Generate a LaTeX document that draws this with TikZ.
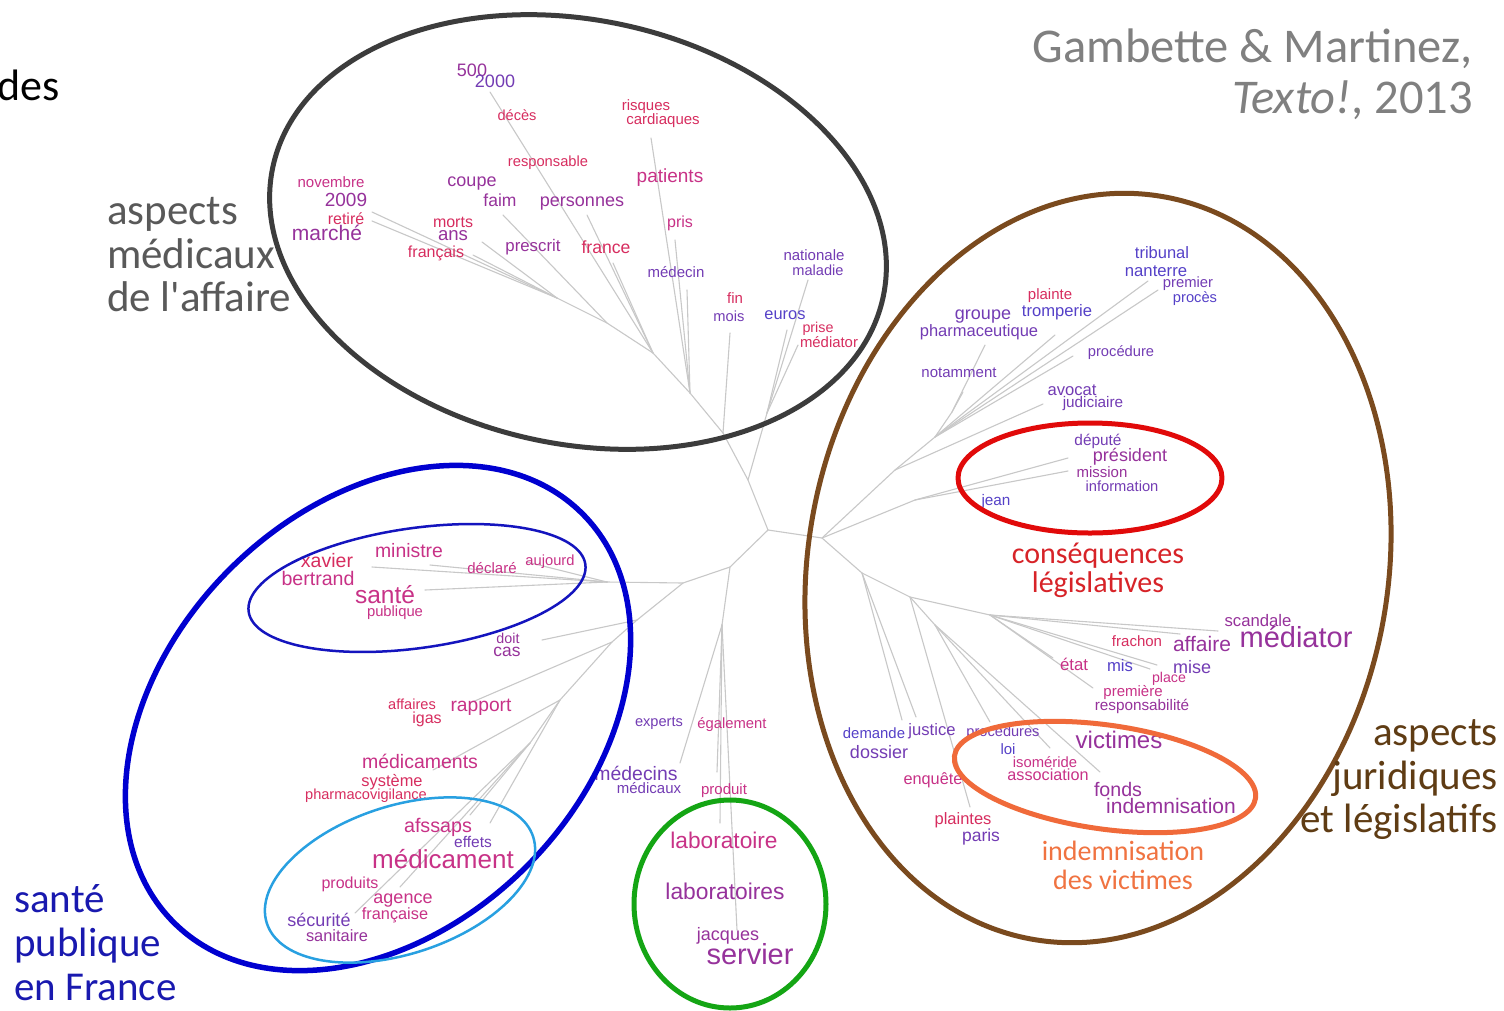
\documentclass[tikz,border=0pt]{standalone}
\usepackage{fontspec}
\setmainfont{Liberation Sans}
\newfontfamily\titlefont{Carlito}
\definecolor{treegray}{RGB}{200,200,200}
\definecolor{wred}{RGB}{215,45,95}
\definecolor{wpink}{RGB}{200,50,135}
\definecolor{wplum}{RGB}{150,50,155}
\definecolor{wviol}{RGB}{115,60,180}
\definecolor{wblue}{RGB}{85,65,200}
\definecolor{ringgray}{RGB}{60,60,60}
\definecolor{ringbrown}{RGB}{122,74,30}
\definecolor{ringred}{RGB}{225,10,10}
\definecolor{ringblue}{RGB}{0,0,208}
\definecolor{ringnavy}{RGB}{20,20,190}
\definecolor{ringsky}{RGB}{40,160,225}
\definecolor{ringgreen}{RGB}{20,165,20}
\definecolor{ringorange}{RGB}{240,106,58}
\definecolor{txtgray}{RGB}{89,89,89}
\definecolor{citegray}{RGB}{128,128,128}
\definecolor{txtblue}{RGB}{25,25,175}
\definecolor{txtbrown}{RGB}{95,60,20}
\definecolor{txtred}{RGB}{215,35,40}
\definecolor{txtorange}{RGB}{240,115,65}
\tikzset{
    word/.style = {inner sep=0pt, font=\fontsize{#1}{#1}\selectfont},
    title/.style = {inner sep=0pt, font=\titlefont\fontsize{#1}{#1}\selectfont},
    branch/.style = {draw=treegray, line width=1.1pt},
    ring/.style = {line width=#1}
}
\begin{document}
\begin{tikzpicture}[line cap=round,line join=round,x=1pt,y=-1pt]
\fill[white] (0,0) rectangle (1504,1010);
\useasboundingbox (0,0) rectangle (1504,1010);
\coordinate (c0) at (768,530);
\coordinate (t0) at (748,480);
\coordinate (t1) at (723,433);
\coordinate (t2) at (767,413);
\coordinate (t3) at (690,393);
\coordinate (t4) at (653,353);
\coordinate (t5) at (607,323);
\coordinate (t6) at (557,298);
\coordinate (c1) at (822,538);
\coordinate (r1) at (895,470);
\coordinate (r2) at (935,437);
\coordinate (r3) at (952,412);
\coordinate (r4) at (915,500);
\coordinate (r5) at (862,573);
\coordinate (r6) at (910,597);
\coordinate (r7) at (990,615);
\coordinate (r8) at (935,625);
\coordinate (d0) at (730,567);
\coordinate (d1) at (722,625);
\coordinate (d2) at (683,583);
\coordinate (d3) at (607,582);
\coordinate (d4) at (637,620);
\coordinate (d5) at (612,642);
\coordinate (d6) at (560,700);
\coordinate (d7) at (530,743);
\coordinate (lmois) at (730,333);
\coordinate (lmedecin) at (687,290);
\coordinate (lpris) at (675,240);
\coordinate (lrisques) at (651,138);
\coordinate (l2000) at (490,92);
\coordinate (lpersonnes) at (587,215);
\coordinate (lfrance) at (613,263);
\coordinate (lfaim) at (503,215);
\coordinate (lans) at (482,242);
\coordinate (lmarche1) at (372,212);
\coordinate (lmarche2) at (372,221);
\coordinate (lfrancais) at (473,255);
\coordinate (leuros) at (787,330);
\coordinate (lmaladie) at (808,280);
\coordinate (lprise) at (798,345);
\coordinate (lavocat) at (1043,404);
\coordinate (lprocedure) at (1073,356);
\coordinate (ltribunal) at (1148,281);
\coordinate (lproces) at (1158,290);
\coordinate (ltromperie) at (1055,335);
\coordinate (lgroupe) at (985,345);
\coordinate (lnotamment) at (963,392);
\coordinate (lpresident) at (1068,458);
\coordinate (lmission) at (1068,471);
\coordinate (lscandale) at (1218,631);
\coordinate (laffaire) at (1180,634);
\coordinate (lmise) at (1157,665);
\coordinate (lplace) at (1150,669);
\coordinate (letat) at (1053,658);
\coordinate (lpremiere) at (1093,688);
\coordinate (lfonds) at (1100,772);
\coordinate (lassoc) at (1050,748);
\coordinate (lproced) at (990,722);
\coordinate (ldemande) at (902,720);
\coordinate (ljustice) at (916,717);
\coordinate (lplaintes) at (970,807);
\coordinate (llabo) at (720,823);
\coordinate (lservier) at (737,930);
\coordinate (lproduit) at (717,772);
\coordinate (lmedecins) at (680,763);
\coordinate (lxavier) at (372,567);
\coordinate (lsante) at (425,590);
\coordinate (lministre) at (430,565);
\coordinate (laujourd) at (527,562);
\coordinate (ldoit) at (542,640);
\coordinate (lrapport) at (470,703);
\coordinate (lmedicaments) at (433,770);
\coordinate (lafssaps) at (490,823);
\coordinate (leffets) at (470,815);
\coordinate (lsecurite) at (355,913);
\coordinate (lproduits) at (400,887);
\draw[branch] (c0) -- (t0) -- (t1) -- (t3) -- (t4) -- (t5) -- (t6);
\draw[branch] (t0) -- (t2);
\draw[branch] (t1) -- (lmois);
\draw[branch] (t3) -- (lmedecin);
\draw[branch] (t3) -- (lpris);
\draw[branch] (t3) -- (lrisques);
\draw[branch] (t4) -- (l2000);
\draw[branch] (t4) -- (lpersonnes);
\draw[branch] (t4) -- (lfrance);
\draw[branch] (t5) -- (lfaim);
\draw[branch] (t6) -- (lans);
\draw[branch] (t6) -- (lmarche1);
\draw[branch] (t6) -- (lmarche2);
\draw[branch] (t6) -- (lfrancais);
\draw[branch] (t2) -- (leuros);
\draw[branch] (t2) -- (lmaladie);
\draw[branch] (t2) -- (lprise);
\draw[branch] (c0) -- (c1) -- (r1) -- (r2) -- (r3);
\draw[branch] (r1) -- (lavocat);
\draw[branch] (r2) -- (lprocedure);
\draw[branch] (r2) -- (ltribunal);
\draw[branch] (r2) -- (lproces);
\draw[branch] (r2) -- (ltromperie);
\draw[branch] (r3) -- (lgroupe);
\draw[branch] (r3) -- (lnotamment);
\draw[branch] (c1) -- (r4);
\draw[branch] (r4) -- (lpresident);
\draw[branch] (r4) -- (lmission);
\draw[branch] (c1) -- (r5) -- (r6) -- (r7);
\draw[branch] (r7) -- (lscandale);
\draw[branch] (r7) -- (laffaire);
\draw[branch] (r7) -- (lmise);
\draw[branch] (r7) -- (lplace);
\draw[branch] (r7) -- (letat);
\draw[branch] (r7) -- (lpremiere);
\draw[branch] (r6) -- (r8);
\draw[branch] (r8) -- (lfonds);
\draw[branch] (r8) -- (lassoc);
\draw[branch] (r8) -- (lproced);
\draw[branch] (r6) -- (lplaintes);
\draw[branch] (r5) -- (ldemande);
\draw[branch] (r5) -- (ljustice);
\draw[branch] (c0) -- (d0) -- (d1);
\draw[branch] (d1) -- (llabo);
\draw[branch] (d1) -- (lservier);
\draw[branch] (d1) -- (lproduit);
\draw[branch] (d1) -- (lmedecins);
\draw[branch] (d0) -- (d2) -- (d3);
\draw[branch] (d3) -- (lxavier);
\draw[branch] (d3) -- (lsante);
\draw[branch] (d3) -- (lministre);
\draw[branch] (d3) -- (laujourd);
\draw[branch] (d2) -- (d4) -- (d5) -- (d6) -- (d7);
\draw[branch] (d4) -- (ldoit);
\draw[branch] (d5) -- (lrapport);
\draw[branch] (d6) -- (lmedicaments);
\draw[branch] (d6) -- (lafssaps);
\draw[branch] (d7) -- (leffets);
\draw[branch] (d7) -- (lsecurite);
\draw[branch] (d7) -- (lproduits);
\node[word=18, wplum] (n500) at (472,70) {500};
\node[word=18, wviol] (n2000) at (495,81) {2000};
\node[word=14.6, wred] (deces) at (517,115) {décès};
\node[word=14.7, wred] (respons) at (548,163) {responsable};
\node[word=15, wred] (risques) at (646,107) {risques};
\node[word=15, wred] (cardiaques) at (663,121) {cardiaques};
\node[word=19, wpink] (patients) at (670,178) {patients};
\node[word=16, wpink] (pris) at (680,223) {pris};
\node[word=15, wviol] (medecin) at (676,272) {médecin};
\node[word=15, wpink] (novembre) at (331,182) {novembre};
\node[word=19, wplum] (n2009) at (346,200) {2009};
\node[word=16, wred] (retire) at (346,219) {retiré};
\node[word=21, wplum] (marche) at (327,233) {marché};
\node[word=18, wplum] (coupe) at (472,184) {coupe};
\node[word=17.5, wplum] (faim) at (500,200) {faim};
\node[word=18, wplum] (personnes) at (582,204) {personnes};
\node[word=16, wred] (morts) at (453,222) {morts};
\node[word=18.6, wplum] (ans) at (453,236) {ans};
\node[word=16, wred] (francais) at (436,253) {français};
\node[word=16.8, wplum] (prescrit) at (533,247) {prescrit};
\node[word=17.6, wred] (france) at (606,247) {france};
\node[word=15, wviol] (nationale) at (814,255) {nationale};
\node[word=14.6, wviol] (maladie) at (818,270) {maladie};
\node[word=15, wred] (fin) at (735,298) {fin};
\node[word=14.7, wviol] (mois) at (729,316) {mois};
\node[word=16.4, wblue] (euros) at (785,315) {euros};
\node[word=14.3, wred] (prise) at (818,329) {prise};
\node[word=14.9, wred] (mediatorA) at (829,342) {médiator};
\node[word=16.5, wblue] (tribunal) at (1162,253) {tribunal};
\node[word=16.7, wblue] (nanterre) at (1156,271) {nanterre};
\node[word=14.8, wviol] (premier) at (1188,284) {premier};
\node[word=14.7, wblue] (proces) at (1195,299) {procès};
\node[word=15, wred] (plainte) at (1050,296) {plainte};
\node[word=18, wviol] (groupe) at (983,317) {groupe};
\node[word=16.6, wblue] (tromperie) at (1057,312) {tromperie};
\node[word=16.5, wviol] (pharma) at (979,332) {pharmaceutique};
\node[word=14.7, wviol] (procedure) at (1121,353) {procédure};
\node[word=15, wviol] (notamment) at (959,373) {notamment};
\node[word=16.6, wviol] (avocat) at (1072,390) {avocat};
\node[word=15.3, wviol] (judiciaire) at (1093,404) {judiciaire};
\node[word=15.4, wviol] (depute) at (1098,441) {député};
\node[word=18, wplum] (president) at (1130,457) {président};
\node[word=15, wplum] (mission) at (1102,472) {mission};
\node[word=14.7, wviol] (information) at (1122,486) {information};
\node[word=15.3, wblue] (jean) at (996,502) {jean};
\node[word=16.7, wplum] (scandale) at (1258,621) {scandale};
\node[word=29, wplum] (mediatorB) at (1296,637) {médiator};
\node[word=15, wred] (frachon) at (1137,641) {frachon};
\node[word=21, wplum] (affaire) at (1202,644) {affaire};
\node[word=16.8, wpink] (etat) at (1074,664) {état};
\node[word=16.7, wblue] (mis) at (1120,666) {mis};
\node[word=18, wviol] (mise) at (1192,667) {mise};
\node[word=14.2, wpink] (place) at (1169,679) {place};
\node[word=15, wpink] (premiere) at (1133,693) {première};
\node[word=15.3, wplum] (respons2) at (1142,706) {responsabilité};
\node[word=14.9, wblue] (demande) at (874,733) {demande};
\node[word=16.6, wviol] (justice) at (932,731) {justice};
\node[word=14.6, wviol] (procedures) at (1003,733) {procédures};
\node[word=18, wviol] (dossier) at (879,752) {dossier};
\node[word=24, wplum] (victimes) at (1119,740) {victimes};
\node[word=15, wblue] (loi) at (1008,749) {loi};
\node[word=14.8, wpink] (isomeride) at (1045,762) {isoméride};
\node[word=16.2, wpink] (association) at (1048,775) {association};
\node[word=16.3, wpink] (enquete) at (933,780) {enquête};
\node[word=19.6, wplum] (fonds) at (1118,789) {fonds};
\node[word=21, wplum] (indemn) at (1171,806) {indemnisation};
\node[word=16.5, wred] (plaintes) at (963,820) {plaintes};
\node[word=17.5, wviol] (paris) at (981,837) {paris};
\node[word=19.5, wred] (xavier) at (327,561) {xavier};
\node[word=19.6, wpink] (bertrand) at (318,578) {bertrand};
\node[word=19.4, wpink] (ministre) at (409,551) {ministre};
\node[word=15, wpink] (declare) at (492,568) {déclaré};
\node[word=14.7, wpink] (aujourd) at (550,562) {aujourd};
\node[word=24.5, wpink] (sante) at (385,595) {santé};
\node[word=14.8, wpink] (publique) at (395,613) {publique};
\node[word=14.3, wplum] (doit) at (508,638) {doit};
\node[word=17.4, wplum] (cas) at (507,652) {cas};
\node[word=14.6, wred] (affaires) at (412,704) {affaires};
\node[word=16, wred] (igas) at (427,719) {igas};
\node[word=19.2, wpink] (rapport) at (481,707) {rapport};
\node[word=19.5, wpink] (medicaments) at (420,761) {médicaments};
\node[word=16.4, wred] (systeme) at (392,782) {système};
\node[word=14.6, wred] (pharmaco) at (366,796) {pharmacovigilance};
\node[word=19.7, wpink] (afssaps) at (438,827) {afssaps};
\node[word=15.5, wviol] (effets) at (473,842) {effets};
\node[word=26, wpink] (medicament) at (443,859) {médicament};
\node[word=16, wpink] (produits) at (350,884) {produits};
\node[word=18, wpink] (agence) at (403,901) {agence};
\node[word=16.3, wpink] (francaise) at (395,915) {française};
\node[word=18, wviol] (securite) at (319,920) {sécurité};
\node[word=16.4, wplum] (sanitaire) at (337,936) {sanitaire};
\node[word=14.6, wviol] (experts) at (659,723) {experts};
\node[word=14.8, wpink] (egalement) at (732,725) {également};
\node[word=19.4, wviol] (medecins) at (636,773) {médecins};
\node[word=15, wviol] (medicaux) at (649,788) {médicaux};
\node[word=15, wpink] (produit) at (724,791) {produit};
\node[word=22.7, wpink] (laboratoire) at (724,840) {laboratoire};
\node[word=22.8, wplum] (laboratoires) at (725,891) {laboratoires};
\node[word=18, wplum] (jacques) at (728,936) {jacques};
\node[word=29, wplum] (servier) at (750,954) {servier};
\draw[ring=5pt, ringgray] (578,232) circle [x radius=312pt, y radius=212pt, rotate=-12];
\draw[ring=5pt, ringbrown] (1098,568) circle [x radius=290pt, y radius=377pt, rotate=-10];
\draw[ring=5pt, ringred] (1090,478) circle [x radius=132pt, y radius=55pt];
\draw[ring=5.5pt, ringblue] (378,718) circle [x radius=289pt, y radius=210pt, rotate=45];
\draw[ring=2.5pt, ringnavy] (417,588) circle [x radius=170pt, y radius=60pt, rotate=8];
\draw[ring=2.5pt, ringsky] (400,880) circle [x radius=140pt, y radius=74pt, rotate=18];
\draw[ring=5pt, ringgreen] (730,904) circle [x radius=96pt, y radius=104pt];
\draw[ring=5pt, ringorange] (1105,777) circle [x radius=152pt, y radius=52pt, rotate=-8];
\node[title=44, black, anchor=base east] (des) at (60,100) {des};
\node[title=43, txtgray, anchor=base west] (asp1) at (107,224) {aspects};
\node[title=43, txtgray, anchor=base west] (asp2) at (107,268) {médicaux};
\node[title=43, txtgray, anchor=base west] (asp3) at (107,311) {de l'affaire};
\node[title=48.5, citegray, anchor=base east] (cite1) at (1473,62) {Gambette \& Martinez,};
\node[title=48.5, citegray, anchor=base east] (cite2) at (1473,113) {\textit{Texto!}, 2013};
\node[title=30, txtred] (cons1) at (1098,556) {conséquences};
\node[title=30, txtred] (cons2) at (1098,585) {législatives};
\node[title=41, txtblue, anchor=base west] (pub1) at (14,912) {santé};
\node[title=41, txtblue, anchor=base west] (pub2) at (14,956) {publique};
\node[title=41, txtblue, anchor=base west] (pub3) at (14,1000) {en France};
\node[title=41, txtbrown, anchor=base east] (jur1) at (1498,745) {aspects};
\node[title=41, txtbrown, anchor=base east] (jur2) at (1498,789) {juridiques};
\node[title=41, txtbrown, anchor=base east] (jur3) at (1498,832) {et législatifs};
\node[title=28, txtorange] (ind1) at (1123,851) {indemnisation};
\node[title=28, txtorange] (ind2) at (1123,880) {des victimes};
\end{tikzpicture}
\end{document}
